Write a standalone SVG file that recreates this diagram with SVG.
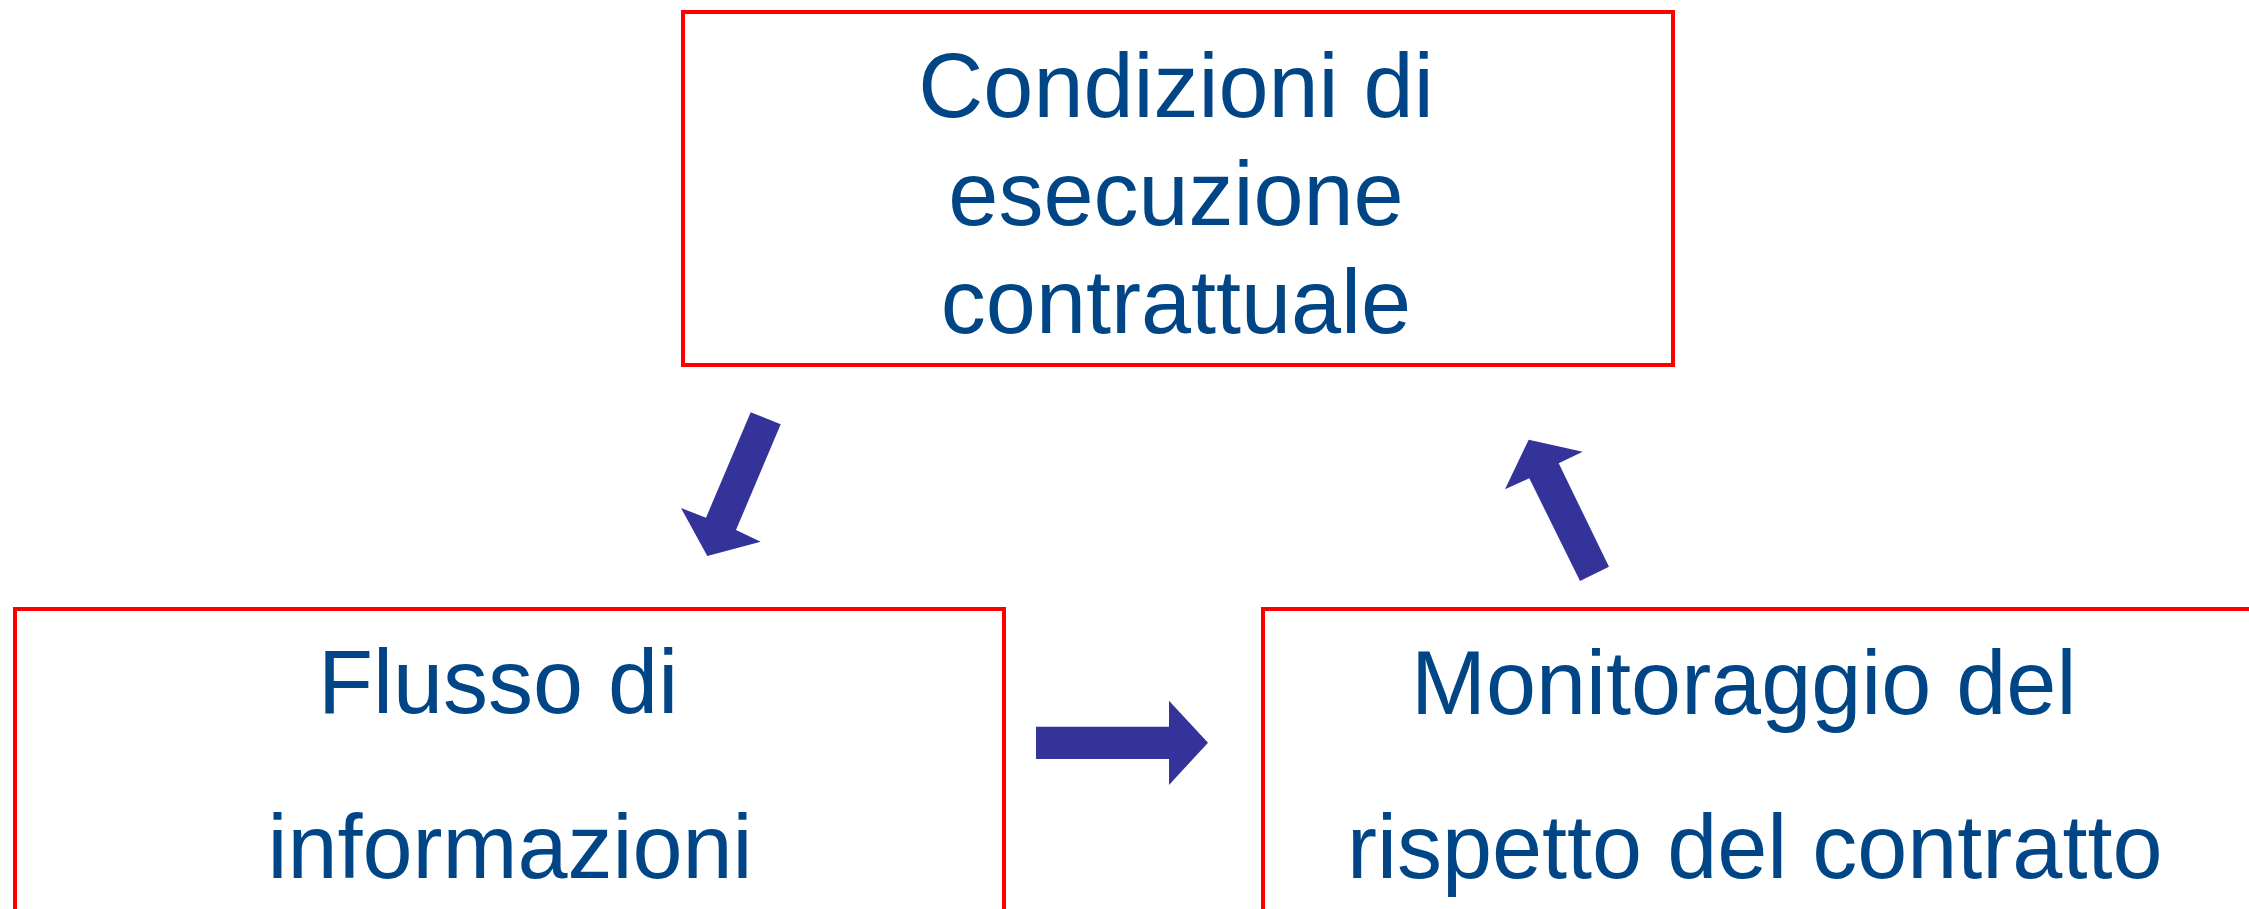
<svg xmlns="http://www.w3.org/2000/svg" width="2249" height="909" viewBox="0 0 2249 909">
<style>
.box{fill:#ffffff;stroke:#ff0000;stroke-width:4}
.t{font-family:"Liberation Sans",Arial,sans-serif;font-size:90px;fill:#004586}
.arr{fill:#333399}
</style>
<rect width="2249" height="909" fill="#ffffff"/>
<g id="node-condizioni">
<rect class="box" x="683" y="12" width="990" height="353"/>
<text class="t" x="1176" y="117" text-anchor="middle">Condizioni di</text>
<text class="t" x="1176" y="225" text-anchor="middle">esecuzione</text>
<text class="t" x="1176" y="333" text-anchor="middle">contrattuale</text>
</g>
<g id="node-flusso">
<rect class="box" x="15" y="609" width="989" height="340"/>
<text class="t" x="318" y="713">Flusso di</text>
<text class="t" x="510" y="878" text-anchor="middle">informazioni</text>
</g>
<g id="node-monitoraggio">
<rect class="box" x="1263" y="609" width="1000" height="340"/>
<text class="t" x="1411" y="714">Monitoraggio del</text>
<text class="t" x="1347" y="878">rispetto del contratto</text>
</g>
<g id="connectors">
<polygon class="arr" points="750.7,412.3 780.7,424.3 736,530 760.7,541.7 707.3,556 681,508 706,517.7"/>
<polygon class="arr" points="1036,726.7 1169,726.7 1169,700.7 1208,742.7 1169,785 1169,759 1036,759"/>
<polygon class="arr" points="1528.7,439.7 1582.7,451.7 1558.7,463.3 1609,566.7 1580,581 1529.3,478.3 1505,489.3"/>
</g>
</svg>
